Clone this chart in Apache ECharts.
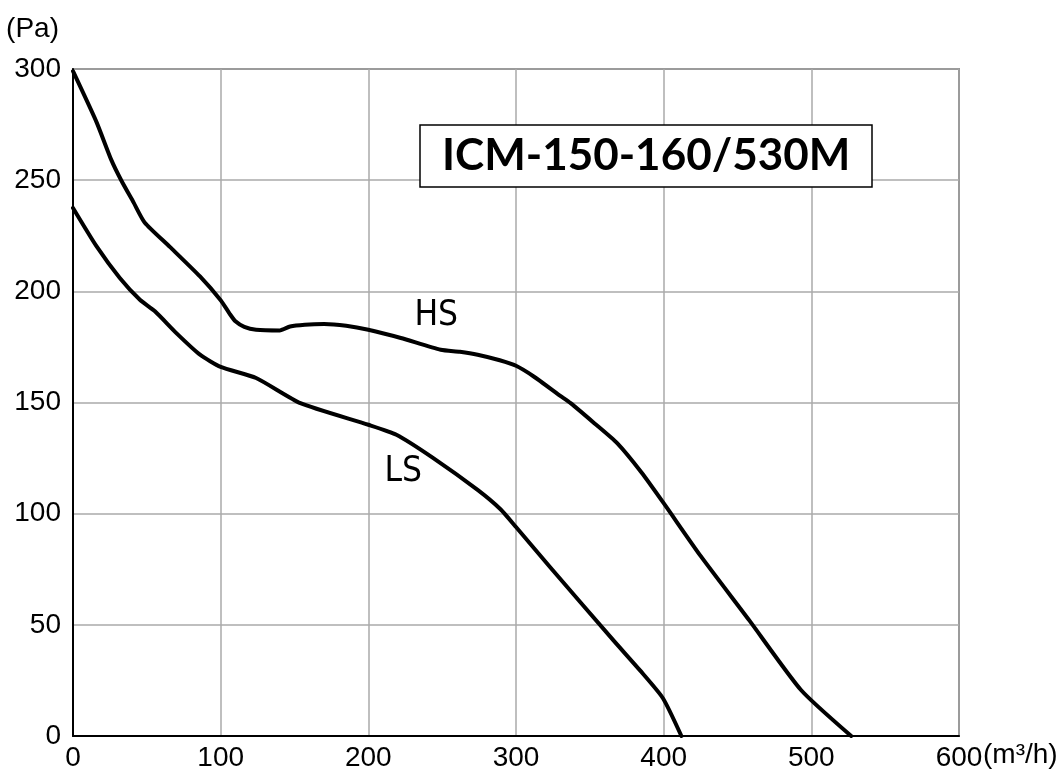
<!DOCTYPE html>
<html>
<head>
<meta charset="utf-8">
<script src="https://cdn.jsdelivr.net/npm/echarts@6/dist/echarts.min.js"></script>
<style>
html,body{margin:0;padding:0;background:#fff;}
#chart{width:1063px;height:778px;}
</style>
</head>
<body>
<div id="chart"></div>
<script>
// Chart values
const chartTitle = 'ICM-150-160/530M';
const xTicks = [0, 100, 200, 300, 400, 500, 600];
const yTicks = [0, 50, 100, 150, 200, 250, 300];
const hsFlow = [0, 16, 26, 33, 41, 48.5, 65.6, 86, 100, 106, 110, 116, 124, 140, 147, 157, 170, 185, 200, 222, 249, 262, 274, 289, 300, 312, 330, 337, 353, 368.5, 385, 400, 425, 458, 493, 527];
const hsPressure = [299, 276, 259, 249.5, 240, 231, 220, 206.7, 196, 190, 186.5, 184, 182.7, 182.4, 184.2, 185, 185.3, 184.5, 182.7, 179, 173.7, 172.8, 171.5, 169, 166.5, 161.7, 153, 149.7, 140.7, 131.7, 118.5, 104.7, 81, 52, 20.7, 0];
const lsFlow = [0, 16, 31.7, 45.3, 55.5, 70, 86, 100, 124, 154, 200, 219, 244, 274, 289.5, 300, 323, 366, 384, 399.5, 412];
const lsPressure = [237.5, 220.2, 206, 196.2, 191, 181.2, 171.5, 166, 161, 149.7, 140, 135.5, 125, 110.7, 102, 94, 76, 43, 29.5, 17, 0];
const seriesNames = ['HS', 'LS'];
const labelPositions = { HS: [246, 189], LS: [223.6, 118.8] };
const xUnit = '(m³/h)';
const yUnit = '(Pa)';

const zip = (a, b) => a.map((v, i) => [v, b[i]]);
const axisFont = { fontFamily: 'Liberation Sans, Arial, sans-serif', fontSize: 28, color: '#000' };
const curveLabel = (name) => ({
  silent: true,
  symbol: 'rect',
  symbolSize: 1,
  itemStyle: { color: 'rgba(0,0,0,0)' },
  data: [{ coord: labelPositions[name] }],
  label: {
    show: true, position: 'inside', formatter: name,
    fontFamily: 'Liberation Sans Narrow, DejaVu Sans Condensed, sans-serif',
    fontSize: 35, fontWeight: 'lighter', color: '#000'
  }
});

const chart = echarts.init(document.getElementById('chart'));
chart.setOption({
  animation: false,
  backgroundColor: '#fff',
  title: {
    text: chartTitle,
    left: 420, top: 125,
    backgroundColor: '#fff',
    borderColor: '#000', borderWidth: 1.5,
    padding: [9, 22],
    textStyle: { fontFamily: 'Lato, Noto Sans, sans-serif', fontSize: 44, fontWeight: 'bold', color: '#000', lineHeight: 44 }
  },
  grid: {
    left: 73, right: 104, top: 69, bottom: 42,
    outerBoundsMode: 'none', containLabel: false,
    show: true, borderColor: '#444', borderWidth: 1.5, backgroundColor: 'transparent'
  },
  xAxis: {
    type: 'value', min: xTicks[0], max: xTicks[xTicks.length - 1], interval: 100,
    name: xUnit, nameLocation: 'end', nameGap: 24, nameMoveOverlap: false,
    nameTextStyle: Object.assign({}, axisFont, { verticalAlign: 'top', align: 'left', padding: [5, 0, 0, 0] }),
    axisLine: { show: true, lineStyle: { color: '#000', width: 2 } },
    axisTick: { show: false },
    axisLabel: Object.assign({}, axisFont, { margin: 8 }),
    splitLine: { show: true, lineStyle: { color: '#aaa', width: 1.5 } }
  },
  yAxis: {
    type: 'value', min: yTicks[0], max: yTicks[yTicks.length - 1], interval: 50,
    name: yUnit, nameLocation: 'end', nameGap: 26, nameMoveOverlap: false,
    nameTextStyle: Object.assign({}, axisFont, { align: 'right', padding: [0, 14, 0, 0] }),
    axisLine: { show: true, lineStyle: { color: '#000', width: 2 } },
    axisTick: { show: false },
    axisLabel: Object.assign({}, axisFont, { margin: 12 }),
    splitLine: { show: true, lineStyle: { color: '#aaa', width: 1.5 } }
  },
  series: [
    {
      name: seriesNames[0], type: 'line', data: zip(hsFlow, hsPressure),
      showSymbol: false, smooth: 0.2,
      lineStyle: { color: '#000', width: 4, join: 'round', cap: 'round' },
      markPoint: curveLabel('HS')
    },
    {
      name: seriesNames[1], type: 'line', data: zip(lsFlow, lsPressure),
      showSymbol: false, smooth: 0.2,
      lineStyle: { color: '#000', width: 4, join: 'round', cap: 'round' },
      markPoint: curveLabel('LS')
    }
  ]
});
</script>
</body>
</html>
